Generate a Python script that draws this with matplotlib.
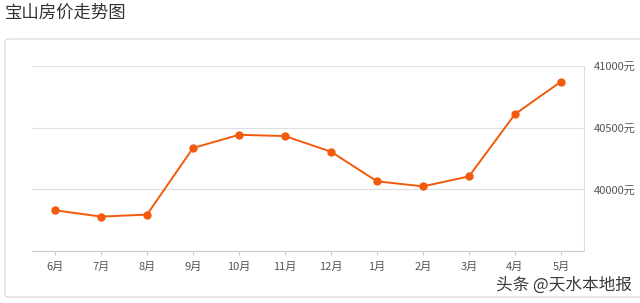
import matplotlib
matplotlib.use("Agg")
import matplotlib.pyplot as plt
from matplotlib.patches import FancyBboxPatch

plt.rcParams["font.family"] = ["Noto Sans CJK SC", "DejaVu Sans"]

months = ["6月", "7月", "8月", "9月", "10月", "11月", "12月", "1月", "2月", "3月", "4月", "5月"]
prices = [39830, 39779, 39795, 40335, 40442, 40432, 40305, 40065, 40024, 40105, 40610, 40873]
yticks = [40000, 40500, 41000]
ytick_labels = ["40000元", "40500元", "41000元"]

W, H = 640, 303
fig = plt.figure(figsize=(W / 100, H / 100), dpi=100)

# card frame behind the chart
card = FancyBboxPatch((5 / W, 1 - 297 / H), 660 / W, (297 - 39) / H,
                      boxstyle="round,pad=0,rounding_size=0.008",
                      transform=fig.transFigure, facecolor="white",
                      edgecolor="#dddddd", linewidth=1.0, zorder=-5)
fig.patches.append(card)

fig.text(5 / W, 1 - 13 / H, "宝山房价走势图", fontsize=12.5, color="#333333",
         ha="left", va="center")

ax = fig.add_axes([32 / W, 1 - 251 / H, (584 - 32) / W, (251 - 66) / H])
ax.set_zorder(2)
ax.set_facecolor("none")
x = range(len(months))
ax.plot(x, prices, color="#f25a0c", linewidth=1.4, marker="o",
        markersize=5, zorder=3, clip_on=False)

ax.set_xlim(-0.5, len(months) - 0.5)
ax.set_ylim(39500, 41000)
ax.set_xticks(list(x))
ax.set_xticklabels(months)
ax.set_yticks(yticks)
ax.set_yticklabels(ytick_labels)
ax.yaxis.tick_right()
ax.tick_params(axis="y", length=0, pad=7, labelsize=8, labelcolor="#555555")
ax.tick_params(axis="x", length=3, color="#cccccc", pad=5, labelsize=8,
               labelcolor="#555555")
ax.grid(axis="y", color="#e0e0e0", linewidth=0.9)
ax.set_axisbelow(True)

for side in ["left", "top"]:
    ax.spines[side].set_visible(False)
ax.spines["right"].set_color("#dddddd")
ax.spines["bottom"].set_color("#cccccc")

fig.text(564 / W, 1 - 285 / H, "头条 @天水本地报", fontsize=12, color="#3a3a3a",
         ha="center", va="center", zorder=5)

fig.savefig("out.png", dpi=100)
